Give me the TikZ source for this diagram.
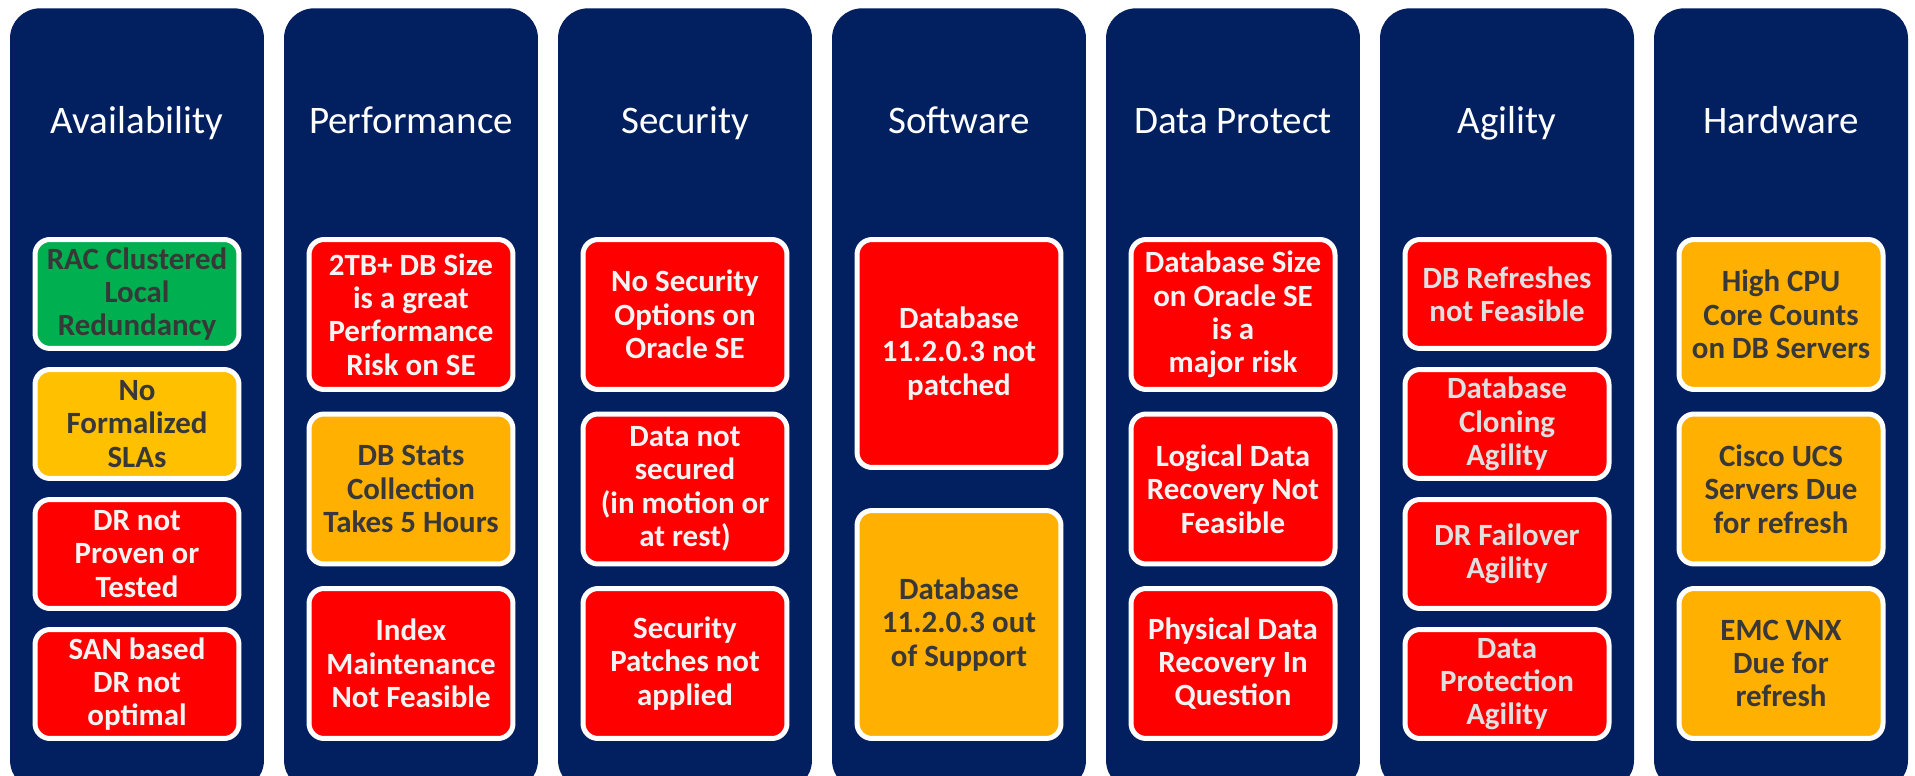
\documentclass[tikz,border=0pt]{standalone}
\usepackage{fontspec}
\setmainfont{Carlito}
\definecolor{navy}{HTML}{022060}
\definecolor{riskred}{HTML}{FF0000}
\definecolor{amber}{HTML}{FFB000}
\definecolor{gold}{HTML}{FFC000}
\definecolor{okgreen}{HTML}{00B050}
\definecolor{darktext}{HTML}{383838}
\definecolor{lighttext}{HTML}{F4F4F4}
\definecolor{greytext}{HTML}{E0E0E0}
\begin{document}
\begin{tikzpicture}[
      x=0.02cm, y=-0.02cm,
      column/.style={fill=navy, rounded corners=0.6cm, inner sep=0pt, anchor=north,
        minimum width=5.08cm, minimum height=15.64cm},
      heading/.style={text=white, anchor=base, font=\fontsize{22.2}{26}\selectfont},
      issue/.style={draw=white, line width=0.1cm, rounded corners=0.3cm, inner sep=0pt,
        minimum width=4.08cm, align=center, font=\bfseries\fontsize{17.6}{19}\selectfont},
      fourbox/.style={issue, minimum height=2.18cm},
      threebox/.style={issue, minimum height=3.0cm},
      twobox/.style={issue, minimum height=4.56cm},
      high/.style={fill=riskred, text=lighttext},
      medium/.style={fill=amber, text=darktext},
      low/.style={fill=okgreen, text=darktext}
    ]

    \fill[white] (0,0) rectangle (1915,776);
    \useasboundingbox (0,0) rectangle (1915,776);

    \node[column] (avail) at (137,8) {};
    \node[column] (perf)  at (411,8) {};
    \node[column] (sec)   at (685,8) {};
    \node[column] (soft)  at (959,8) {};
    \node[column] (dprot) at (1233,8) {};
    \node[column] (agil)  at (1507,8) {};
    \node[column] (hw)    at (1781,8) {};

    \node[heading] (avail-title) at (137,134) {Availability};
    \node[heading] (perf-title)  at (411,134) {Performance};
    \node[heading] (sec-title)   at (685,134) {Security};
    \node[heading] (soft-title)  at (959,134) {Software};
    \node[heading] (dprot-title) at (1233,134) {Data Protect};
    \node[heading] (agil-title)  at (1507,134) {Agility};
    \node[heading] (hw-title)    at (1781,134) {Hardware};

    \node[fourbox, low, fill=okgreen] (avail-1) at (137,294) {RAC Clustered\\Local\\Redundancy};
    \node[fourbox, medium, fill=gold] (avail-2) at (137,424) {No\\Formalized\\SLAs};
    \node[fourbox, high] (avail-3) at (137,554) {DR not\\Proven or\\Tested};
    \node[fourbox, high] (avail-4) at (137,684) {SAN based\\DR not\\optimal};

    \node[threebox, high]   (perf-1) at (411,314.5) {2TB+ DB Size\\is a great\\Performance\\Risk on SE};
    \node[threebox, medium] (perf-2) at (411,489) {DB Stats\\Collection\\Takes 5 Hours};
    \node[threebox, high]   (perf-3) at (411,663.5) {Index\\Maintenance\\Not Feasible};

    \node[threebox, high] (sec-1) at (685,314.5) {No Security\\Options on\\Oracle SE};
    \node[threebox, high] (sec-2) at (685,489) {Data not\\secured\\(in motion or\\at rest)};
    \node[threebox, high] (sec-3) at (685,663.5) {Security\\Patches not\\applied};

    \node[twobox, high]   (soft-1) at (959,353.5) {Database\\11.2.0.3 not\\patched};
    \node[twobox, medium] (soft-2) at (959,624.5) {Database\\11.2.0.3 out\\of Support};

    \node[threebox, high] (dprot-1) at (1233,314.5) {Database Size\\on Oracle SE\\is a\\major risk};
    \node[threebox, high] (dprot-2) at (1233,489) {Logical Data\\Recovery Not\\Feasible};
    \node[threebox, high] (dprot-3) at (1233,663.5) {Physical Data\\Recovery In\\Question};

    \node[fourbox, high, text=greytext] (agil-1) at (1507,294) {DB Refreshes\\not Feasible};
    \node[fourbox, high, text=greytext] (agil-2) at (1507,424) {Database\\Cloning\\Agility};
    \node[fourbox, high, text=greytext] (agil-3) at (1507,554) {DR Failover\\Agility};
    \node[fourbox, high, text=greytext] (agil-4) at (1507,684) {Data\\Protection\\Agility};

    \node[threebox, medium] (hw-1) at (1781,314.5) {High CPU\\Core Counts\\on DB Servers};
    \node[threebox, medium] (hw-2) at (1781,489) {Cisco UCS\\Servers Due\\for refresh};
    \node[threebox, medium] (hw-3) at (1781,663.5) {EMC VNX\\Due for\\refresh};

    \end{tikzpicture}
\end{document}
